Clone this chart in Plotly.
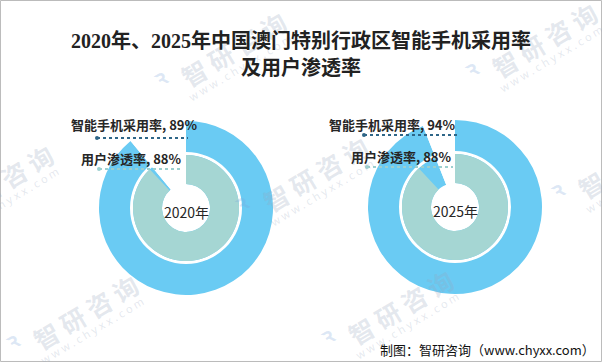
import plotly.graph_objects as go

# ---- data ----
years = ["2020年", "2025年"]
adoption = [89, 94]      # 智能手机采用率 (%)
penetration = [88, 88]   # 用户渗透率 (%)
series_names = ["智能手机采用率", "用户渗透率"]

W, H = 602, 362
BLUE = "#6ACBF3"
TEAL = "#A5D6D3"
TXT = "#262626"

def px(x):
    return x / W

def py(y):
    return 1 - y / H

fig = go.Figure()

centers = [(186, 208), (455, 207)]
R_OUT, R_IN, R_HOLE = 87, 55, 24

for i, (cx, cy) in enumerate(centers):
    a = adoption[i]
    p = penetration[i]
    # outer ring (full pie down to hole)
    fig.add_trace(go.Pie(
        values=[a, 100 - a], labels=[series_names[0], "其他"],
        sort=False, direction="clockwise", rotation=0,
        hole=R_HOLE / R_OUT,
        marker=dict(colors=[BLUE, "white"], line=dict(width=0)),
        textinfo="none", hoverinfo="label+percent", showlegend=False,
        domain=dict(x=[px(cx - R_OUT), px(cx + R_OUT)], y=[py(cy + R_OUT), py(cy - R_OUT)]),
    ))
    # thin white separator ring
    fig.add_trace(go.Pie(
        values=[1], labels=[""], sort=False,
        hole=(R_IN - 2) / (R_IN + 1),
        marker=dict(colors=["white"], line=dict(width=0)),
        textinfo="none", hoverinfo="skip", showlegend=False,
        domain=dict(x=[px(cx - R_IN - 1), px(cx + R_IN + 1)], y=[py(cy + R_IN + 1), py(cy - R_IN - 1)]),
    ))
    # inner ring
    fig.add_trace(go.Pie(
        values=[p, 100 - p], labels=[series_names[1], "其他"],
        sort=False, direction="clockwise", rotation=0,
        hole=R_HOLE / (R_IN - 2),
        marker=dict(colors=[TEAL, "rgba(0,0,0,0)"], line=dict(width=0)),
        textinfo="none", hoverinfo="label+percent", showlegend=False,
        domain=dict(x=[px(cx - R_IN + 2), px(cx + R_IN - 2)], y=[py(cy + R_IN - 2), py(cy - R_IN + 2)]),
    ))

annotations = []
shapes = []

# ---- watermarks (faint, rotated) ----
wm_anchors = [(10, 343), (325, 338), (158, 80), (469, 71), (240, 205), (555, 192), (-75, 213)]
WM_COLOR = "rgba(150,165,190,0.26)"
for (lx, ly) in wm_anchors:
    annotations.append(dict(
        x=px(lx + 75), y=py(ly - 31), xref="paper", yref="paper", showarrow=False,
        xanchor="center", yanchor="middle", textangle=-31,
        text="<b>智 研 咨 询</b>",
        font=dict(size=25, color=WM_COLOR, family="Noto Sans CJK SC"),
    ))
    annotations.append(dict(
        x=px(lx + 82), y=py(ly - 13), xref="paper", yref="paper", showarrow=False,
        xanchor="center", yanchor="middle", textangle=-31,
        text="w w w . c h y x x . c o m",
        font=dict(size=11, color=WM_COLOR, family="Noto Sans"),
    ))
    annotations.append(dict(
        x=px(lx + 2), y=py(ly - 2), xref="paper", yref="paper", showarrow=False,
        xanchor="center", yanchor="middle", textangle=-31,
        text="<b>ꝛ</b>",
        font=dict(size=22, color="rgba(120,160,215,0.25)", family="DejaVu Sans"),
    ))

label_pos = [
    # (label1 center x, y, line1 x0, x1, y, label2 center x, y, line2 x0, x1, y)
    (134, 124, 97, 188, 138, 131, 158, 99, 183, 169),
    (392, 124, 364, 457, 135, 401, 156, 367, 453, 167),
]
LBL_FONT = dict(size=13, color=TXT, family="Noto Sans CJK SC, Noto Sans")
for i, (cx, cy) in enumerate(centers):
    lx1, ly1, a0, a1, ay, lx2, ly2, b0, b1, by = label_pos[i]
    annotations.append(dict(
        x=px(lx1), y=py(ly1), xref="paper", yref="paper", showarrow=False,
        xanchor="center", yanchor="middle",
        text=f"<b>{series_names[0]}, {adoption[i]}%</b>", font=LBL_FONT,
    ))
    annotations.append(dict(
        x=px(lx2), y=py(ly2), xref="paper", yref="paper", showarrow=False,
        xanchor="center", yanchor="middle",
        text=f"<b>{series_names[1]}, {penetration[i]}%</b>", font=LBL_FONT,
    ))
    shapes.append(dict(type="line", xref="paper", yref="paper",
                       x0=px(a0), x1=px(a1), y0=py(ay), y1=py(ay),
                       line=dict(color="#2E6688", width=2, dash="dot")))
    shapes.append(dict(type="circle", xref="paper", yref="paper",
                       x0=px(a0 - 2), x1=px(a0 + 2), y0=py(ay + 2), y1=py(ay - 2),
                       fillcolor="#2E6688", line=dict(width=0)))
    shapes.append(dict(type="line", xref="paper", yref="paper",
                       x0=px(b0), x1=px(b1), y0=py(by), y1=py(by),
                       line=dict(color="#9CCFCF", width=2, dash="dot")))
    shapes.append(dict(type="circle", xref="paper", yref="paper",
                       x0=px(b0 - 2), x1=px(b0 + 2), y0=py(by + 2), y1=py(by - 2),
                       fillcolor="#9CCFCF", line=dict(width=0)))
    # center year text
    annotations.append(dict(
        x=px(cx), y=py(cy + 4), xref="paper", yref="paper", showarrow=False,
        xanchor="center", yanchor="middle",
        text=years[i], font=dict(size=14, color=TXT, family="Noto Sans CJK SC, Noto Sans"),
    ))

TITLE_FONT = dict(size=20, color="#222222", family="Liberation Serif, Noto Sans CJK SC")
annotations.append(dict(
    x=0.5, y=py(41), xref="paper", yref="paper", showarrow=False,
    xanchor="center", yanchor="middle",
    text="<b>2020年、2025年中国澳门特别行政区智能手机采用率</b>", font=TITLE_FONT,
))
annotations.append(dict(
    x=0.5, y=py(67), xref="paper", yref="paper", showarrow=False,
    xanchor="center", yanchor="middle",
    text="<b>及用户渗透率</b>", font=TITLE_FONT,
))
# source
annotations.append(dict(
    x=px(597), y=py(349), xref="paper", yref="paper", showarrow=False,
    xanchor="right", yanchor="middle",
    text="制图：智研咨询（www.chyxx.com）",
    font=dict(size=13, color="#111111", family="Noto Sans CJK SC"),
))

# border
shapes.append(dict(type="rect", xref="paper", yref="paper", x0=0.0008, x1=0.9992, y0=0.0014, y1=0.9986,
                   line=dict(color="#BBBBBB", width=1)))

fig.update_layout(
    width=W, height=H,
    margin=dict(l=0, r=0, t=0, b=0),
    paper_bgcolor="white", plot_bgcolor="white",
    annotations=annotations, shapes=shapes,
)

fig.write_html("out.html", config={"displayModeBar": False},
               post_script="document.body.style.margin='0';document.body.style.overflow='hidden';")
